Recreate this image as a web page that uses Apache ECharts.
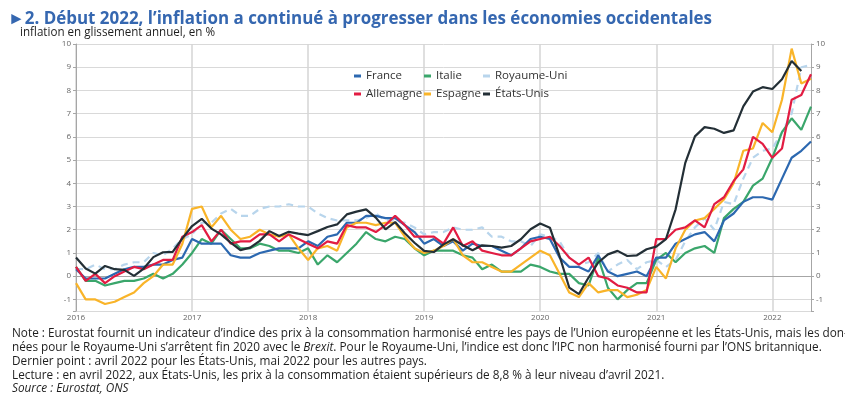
<!DOCTYPE html>
<html><head><meta charset="utf-8">
<script src="https://cdn.jsdelivr.net/npm/echarts@6/dist/echarts.min.js"></script>
<style>html,body{margin:0;padding:0;background:#fff}#c{width:845px;height:398px}</style>
</head><body><div id="c"></div>
<script>
// ---- DATA ----
const years = ['2016','2017','2018','2019','2020','2021','2022'];
const monthsInLastYear = 5;
const france = [0.3,-0.1,-0.1,-0.1,0.1,0.3,0.4,0.4,0.5,0.5,0.7,0.8,
  1.6,1.4,1.4,1.4,0.9,0.8,0.8,1.0,1.1,1.2,1.2,1.2,
  1.5,1.3,1.7,1.8,2.3,2.3,2.6,2.6,2.5,2.5,2.2,1.9,
  1.4,1.6,1.3,1.5,1.1,1.4,1.3,1.3,1.1,0.9,1.2,1.6,
  1.7,1.6,0.8,0.4,0.4,0.2,0.9,0.2,0.0,0.1,0.2,0.0,
  0.8,0.8,1.4,1.6,1.8,1.9,1.5,2.4,2.7,3.2,3.4,3.4,
  3.3,4.2,5.1,5.4,5.8];
const allemagne = [0.4,-0.2,0.1,-0.3,0.0,0.2,0.4,0.3,0.5,0.7,0.7,1.7,
  1.9,2.2,1.5,2.0,1.4,1.5,1.5,1.8,1.8,1.5,1.8,1.6,
  1.4,1.2,1.5,1.4,2.2,2.1,2.1,1.9,2.2,2.6,2.2,1.7,
  1.7,1.7,1.4,2.1,1.3,1.5,1.1,1.0,0.9,0.9,1.2,1.5,
  1.6,1.7,1.3,0.8,0.5,0.8,0.0,-0.1,-0.4,-0.5,-0.7,-0.7,
  1.6,1.6,2.0,2.1,2.4,2.1,3.1,3.4,4.1,4.6,6.0,5.7,
  5.1,5.5,7.6,7.8,8.7];
const italie = [0.4,-0.2,-0.2,-0.4,-0.3,-0.2,-0.2,-0.1,0.1,-0.1,0.1,0.5,
  1.0,1.6,1.4,2.0,1.6,1.2,1.2,1.4,1.3,1.1,1.1,1.0,
  1.2,0.5,0.9,0.6,1.0,1.4,1.9,1.6,1.5,1.7,1.6,1.2,
  0.9,1.1,1.1,1.1,0.9,0.8,0.3,0.5,0.2,0.2,0.2,0.5,
  0.4,0.2,0.1,0.1,-0.3,-0.4,0.8,-0.5,-1.0,-0.6,-0.3,-0.3,
  0.7,1.0,0.6,1.0,1.2,1.3,1.0,2.5,2.9,3.2,3.9,4.2,
  5.1,6.2,6.8,6.3,7.3];
const espagne = [-0.3,-1.0,-1.0,-1.2,-1.1,-0.9,-0.7,-0.3,0.0,0.5,0.5,1.4,
  2.9,3.0,2.1,2.6,2.0,1.6,1.7,2.0,1.8,1.7,1.8,1.2,
  0.7,1.2,1.3,1.1,2.1,2.3,2.3,2.2,2.3,2.3,1.7,1.2,
  1.0,1.1,1.3,1.6,0.9,0.6,0.6,0.4,0.2,0.2,0.5,0.8,
  1.1,0.9,0.1,-0.7,-0.9,-0.3,-0.7,-0.6,-0.6,-0.9,-0.8,-0.6,
  0.4,-0.1,1.2,2.0,2.4,2.5,2.9,3.3,4.0,5.4,5.5,6.6,
  6.2,7.6,9.8,8.3,8.5];
const royaumeUni = [0.3,0.3,0.5,0.3,0.3,0.5,0.6,0.6,1.0,0.9,1.2,1.6,
  1.8,2.3,2.3,2.7,2.9,2.6,2.6,2.9,3.0,3.0,3.1,3.0,
  3.0,2.7,2.5,2.4,2.4,2.4,2.5,2.7,2.4,2.4,2.3,2.1,
  1.8,1.9,1.9,2.1,2.0,2.0,2.1,1.7,1.7,1.5,1.5,1.3,
  1.8,1.7,1.5,0.8,0.5,0.6,1.0,0.2,0.5,0.7,0.3,0.6,
  0.7,0.4,0.7,1.5,2.1,2.5,2.0,3.2,3.1,4.2,5.1,5.4,
  5.5,6.2,7.0,9.0,9.1];
const etatsUnis = [0.8,0.33,0.11,0.44,0.3,0.27,0.01,0.33,0.82,1.03,1.05,1.63,
  2.16,2.47,2.05,1.8,1.44,1.12,1.23,1.52,1.94,1.73,1.91,1.83,
  1.77,1.94,2.12,2.23,2.66,2.78,2.88,2.52,2.02,2.33,1.85,1.44,
  1.09,1.04,1.37,1.59,1.33,1.12,1.33,1.3,1.23,1.3,1.59,2.02,
  2.27,2.09,0.87,-0.49,-0.77,-0.06,0.59,0.94,1.09,0.87,0.9,1.16,
  1.27,1.6,2.88,4.88,6.02,6.42,6.35,6.17,6.28,7.31,7.95,8.14,
  8.06,8.48,9.27,8.84];
const yTicksMin = -1.5, yTicksMax = 10;

const categories = [];
years.forEach((y, yi) => {
  const n = yi === years.length - 1 ? monthsInLastYear : 12;
  for (let m = 1; m <= n; m++) categories.push(y + '-' + String(m).padStart(2, '0'));
});

// ---- helpers ----
const FONT = '"Open Sans", "Noto Sans", sans-serif';
const cv = document.createElement('canvas').getContext('2d');
function measure(text, font) { cv.font = font; return cv.measureText(text).width; }

const titleText = '►2. Début 2022, l’inflation a continué à progresser dans les économies occidentales';
const titleScale = 704 / measure(titleText, 'bold 17px "Open Sans"');
const subText = 'inflation en glissement annuel, en %';
const subScale = 195 / measure(subText, '12px "Open Sans"');

const n1 = 'Note : Eurostat fournit un indicateur d’indice des prix à la consommation harmonisé entre les pays de l’Union européenne et les États-Unis, mais les don-';
const n2a = 'nées pour le Royaume-Uni s’arrêtent fin 2020 avec le ';
const n2b = 'Brexit';
const n2c = '. Pour le Royaume-Uni, l’indice est donc l’IPC non harmonisé fourni par l’ONS britannique.';
const n3 = 'Dernier point : avril 2022 pour les États-Unis, mai 2022 pour les autres pays.';
const n4 = 'Lecture : en avril 2022, aux États-Unis, les prix à la consommation étaient supérieurs de 8,8 % à leur niveau d’avril 2021.';
const n5 = 'Source : Eurostat, ONS';
const noteFont = '12.5px "Open Sans"';
const noteScale = 812 / measure(n2a + n2b + n2c, noteFont);

function noteLine(text, y, rich) {
  return { type: 'text', x: 12, y: y, scaleX: noteScale, originX: 0, originY: 0,
    style: { text: text, x: 0, y: 0, verticalAlign: 'middle', fill: '#1e1e1e',
      font: noteFont, rich: rich } };
}

const isJan = (idx, val) => String(val).endsWith('-01');

const chart = echarts.init(document.getElementById('c'), null, { renderer: 'canvas' });
const axisLabelStyle = { fontSize: 8, color: '#666', fontFamily: FONT };
const yCommon = {
  type: 'value', min: yTicksMin, max: yTicksMax, splitNumber: 12, minInterval: 1, maxInterval: 1,
  axisLine: { show: true, lineStyle: { color: '#a6a6a6', width: 1 } },
  axisTick: { show: true, length: 3, lineStyle: { color: '#a6a6a6' } },
  axisLabel: Object.assign({ margin: 5, formatter: v => Number.isInteger(v) ? String(v) : '' }, axisLabelStyle)
};
const lineSeries = (name, data, color, extra) => Object.assign({
  name, type: 'line', data, symbol: 'none', smooth: false,
  lineStyle: { color, width: 2.2 }, itemStyle: { color }, emphasis: { disabled: true }
}, extra || {});

const legendCommon = { orient: 'vertical', top: 70, padding: 0, itemWidth: 7, itemHeight: 3, itemGap: 6, icon: 'rect',
  textStyle: { fontSize: 11.5, color: '#333', fontFamily: FONT }, selectedMode: false };

chart.setOption({
  animation: false,
  backgroundColor: '#fff',
  grid: { left: 76, right: 34, top: 44, bottom: 87, containLabel: false },
  xAxis: {
    type: 'category', data: categories, boundaryGap: false,
    axisLine: { show: true, lineStyle: { color: '#a6a6a6' } },
    axisTick: { show: false },
    axisLabel: Object.assign({ interval: isJan, margin: 3, formatter: v => v.slice(0, 4) }, axisLabelStyle),
    splitLine: { show: true, interval: isJan, lineStyle: { color: '#d4d4d4', width: 1.5 } }
  },
  yAxis: [
    Object.assign({}, yCommon, { position: 'left', splitLine: { show: true, lineStyle: { color: '#d9d9d9', width: 1 } } }),
    Object.assign({}, yCommon, { position: 'right', splitLine: { show: false } })
  ],
  legend: [
    Object.assign({ left: 354, data: ['France', 'Allemagne'] }, legendCommon),
    Object.assign({ left: 424, data: ['Italie', 'Espagne'] }, legendCommon),
    Object.assign({ left: 483, data: ['Royaume-Uni', 'États-Unis'] }, legendCommon)
  ],
  series: [
    lineSeries('Royaume-Uni', royaumeUni, '#b8d5ec', { lineStyle: { color: '#b8d5ec', width: 2.2, type: [7, 5] } }),
    lineSeries('Italie', italie, '#3aa66b'),
    lineSeries('France', france, '#2c68b0'),
    lineSeries('Espagne', espagne, '#f9b429'),
    lineSeries('Allemagne', allemagne, '#e21c42'),
    lineSeries('États-Unis', etatsUnis, '#232f36')
  ],
  graphic: [
    { type: 'text', x: 8, y: 19, scaleX: titleScale, originX: 0, originY: 0,
      style: { text: titleText, x: 0, y: 0, verticalAlign: 'middle', fill: '#3567b0', font: 'bold 17px "Open Sans"' } },
    { type: 'text', x: 20, y: 33, scaleX: subScale, originX: 0, originY: 0,
      style: { text: subText, x: 0, y: 0, verticalAlign: 'middle', fill: '#1e1e1e', font: '12px "Open Sans"' } },
    noteLine(n1, 333),
    noteLine(n2a + '{i|' + n2b + '}' + n2c, 347, { i: { fontStyle: 'italic', font: 'italic 12.5px "Open Sans"', fill: '#1e1e1e' } }),
    noteLine(n3, 361),
    noteLine(n4, 375),
    { type: 'text', x: 12, y: 388, scaleX: noteScale, originX: 0, originY: 0,
      style: { text: n5, x: 0, y: 0, verticalAlign: 'middle', fill: '#1e1e1e', font: 'italic 12.5px "Open Sans"' } }
  ]
});
</script>
</body></html>
